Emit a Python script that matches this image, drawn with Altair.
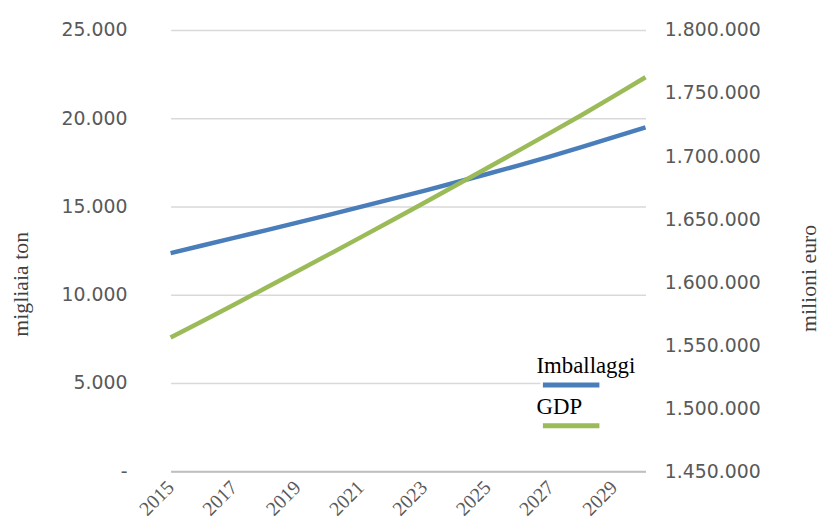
import altair as alt
import pandas as pd

years = list(range(2015, 2031))
imballaggi = [12360, 12790, 13220, 13650, 14090, 14530, 14980, 15430,
              15890, 16360, 16840, 17330, 17840, 18380, 18930, 19490]
gdp = [1556000, 1569000, 1582100, 1595300, 1608600, 1622000, 1635500, 1649100,
       1662800, 1676600, 1690500, 1704500, 1718600, 1732800, 1747500, 1762500]
series_names = ["Imballaggi", "GDP"]
series_colors = ["#4a7ebb", "#9bbb59"]
left_ticks = [0, 5000, 10000, 15000, 20000, 25000]
right_ticks = list(range(1450000, 1800001, 50000))
x_ticks = list(range(2015, 2030, 2))

df = pd.DataFrame({"year": years, "imballaggi": imballaggi, "gdp": gdp})

dot_fmt = "replace(format(datum.value, ',d'), /,/g, '.')"

x_enc = alt.X(
    "year:Q",
    scale=alt.Scale(domain=[2015, 2030], nice=False, zero=False),
    axis=alt.Axis(
        values=x_ticks, format="d", labelAngle=-45, grid=False, ticks=False,
        domainColor="#bfbfbf", domainWidth=2, labelFont="Liberation Serif",
        labelFontSize=20, labelColor="#595959", labelPadding=13,
        labelAlign="right", labelBaseline="middle", title=None,
    ),
)

color_enc = alt.Color(
    "series:N",
    scale=alt.Scale(domain=series_names, range=series_colors),
    legend=alt.Legend(
        title=None, orient="none", legendX=373, legendY=320,
        symbolType="M-2,0.5L2,0.5", symbolStrokeWidth=5, symbolSize=812,
        labelFont="Liberation Serif", labelFontSize=23, labelColor="black",
        labelOffset={"expr": "-52"}, labelBaseline="bottom", fillColor="white",
        padding=14, rowPadding=0,
    ),
)

line1 = alt.Chart(df).transform_calculate(series="'Imballaggi'").mark_line(
    strokeWidth=4.5
).encode(
    x=x_enc,
    y=alt.Y(
        "imballaggi:Q",
        scale=alt.Scale(domain=[0, 25000], nice=False),
        axis=alt.Axis(
            values=left_ticks, orient="left", domain=False, ticks=False,
            grid=True, gridColor="#d9d9d9", gridWidth=1.5,
            labelExpr="datum.value == 0 ? '-' : " + dot_fmt,
            labelFont="DejaVu Sans", labelFontSize=19, labelColor="#595959",
            labelPadding=44, title="migliaia ton", titleFont="Liberation Serif",
            titleFontSize=22, titleFontWeight="normal", titleColor="#404040",
            titleAngle=270, titleX=-151, titleY=256, titleBaseline="middle",
            titleAlign="center",
        ),
    ),
    color=color_enc,
)

line2 = alt.Chart(df).transform_calculate(series="'GDP'").mark_line(
    strokeWidth=4.5
).encode(
    x=x_enc,
    y=alt.Y(
        "gdp:Q",
        scale=alt.Scale(domain=[1450000, 1800000], nice=False, zero=False),
        axis=alt.Axis(
            values=right_ticks, orient="right", domain=False, ticks=False,
            grid=False, labelExpr=dot_fmt,
            labelFont="DejaVu Sans", labelFontSize=19, labelColor="#595959",
            labelPadding=19, title="milioni euro", titleFont="Liberation Serif",
            titleFontSize=22, titleFontWeight="normal", titleColor="#404040",
            titleAngle=270, titleX=164, titleY=250, titleBaseline="middle",
            titleAlign="center",
        ),
    ),
    color=color_enc,
)

chart = alt.layer(line1, line2).resolve_scale(y="independent").properties(
    width=479, height=445,
    autosize=alt.AutoSizeParams(type="none"),
    padding={"left": 164, "top": 20, "right": 178, "bottom": 48},
).configure_view(stroke=None)

chart.save("out.html", embed_options={"renderer": "svg", "actions": False})
